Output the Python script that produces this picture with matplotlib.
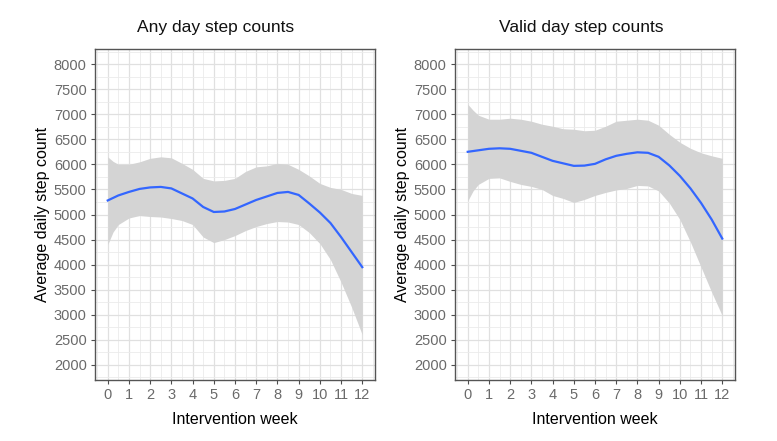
import matplotlib
matplotlib.use("Agg")
import matplotlib.pyplot as plt
import numpy as np

plt.rcParams['font.family'] = ['Liberation Sans', 'DejaVu Sans']

weeks = [0, 0.25, 0.5, 1, 1.5, 2, 2.5, 3, 3.5, 4, 4.5, 5, 5.5, 6, 6.5, 7, 7.5, 8, 8.5, 9, 9.5, 10, 10.5, 11, 11.5, 12]

any_mean = [5280, 5330, 5380, 5450, 5510, 5540, 5550, 5520, 5420, 5320, 5150, 5050, 5060, 5110, 5200, 5290,
            5360, 5430, 5450, 5390, 5220, 5040, 4830, 4550, 4250, 3950]
any_upper = [6150, 6060, 6000, 6000, 6050, 6120, 6150, 6130, 6020, 5900, 5720, 5670, 5680, 5720, 5860, 5950,
             5970, 6020, 6000, 5900, 5770, 5620, 5540, 5500, 5420, 5380]
any_lower = [4400, 4650, 4800, 4930, 4980, 4960, 4950, 4920, 4880, 4800, 4550, 4440, 4500, 4580, 4680, 4760,
             4820, 4860, 4850, 4800, 4640, 4420, 4100, 3650, 3150, 2600]

valid_mean = [6250, 6265, 6280, 6310, 6320, 6310, 6270, 6230, 6150, 6070, 6020, 5970, 5975, 6010, 6100, 6170,
              6210, 6240, 6230, 6150, 5980, 5770, 5520, 5230, 4900, 4520]
valid_upper = [7200, 7080, 6980, 6900, 6900, 6920, 6900, 6860, 6800, 6760, 6710, 6700, 6670, 6680, 6760, 6860,
               6880, 6900, 6880, 6780, 6600, 6440, 6320, 6230, 6170, 6120]
valid_lower = [5270, 5470, 5600, 5720, 5730, 5660, 5600, 5560, 5500, 5380, 5320, 5240, 5300, 5380, 5440, 5490,
               5520, 5580, 5570, 5470, 5230, 4900, 4450, 3950, 3450, 2980]

titles = ["Any day step counts", "Valid day step counts"]
x_ticks = list(range(0, 13))
y_ticks = list(range(2000, 8001, 500))

fig = plt.figure(figsize=(7.77, 4.41), dpi=100)
W, H = 777, 441
panels = [
    (95, titles[0], any_mean, any_upper, any_lower, 0.43),
    (455, titles[1], valid_mean, valid_upper, valid_lower, 0.45),
]
for left, title, m, up, lo, tx in panels:
    ax = fig.add_axes([left / W, 1 - 380 / H, 280 / W, 331 / H])
    ax.fill_between(weeks, lo, up, color="#d4d4d4", linewidth=0, zorder=2)
    ax.plot(weeks, m, color="#3366FF", linewidth=1.6, zorder=3)
    ax.set_xlim(-0.6, 12.6)
    ax.set_ylim(1700, 8300)
    ax.set_xticks(x_ticks)
    ax.set_yticks(y_ticks)
    ax.set_xticks(np.arange(-0.5, 12.6, 0.5), minor=True)
    ax.set_yticks(np.arange(1750, 8300, 250), minor=True)
    ax.grid(which="major", color="#e0e0e0", linewidth=0.9, zorder=0)
    ax.grid(which="minor", color="#ebebeb", linewidth=0.6, zorder=0)
    ax.set_axisbelow(True)
    ax.tick_params(which="minor", length=0)
    ax.tick_params(which="major", length=3, color="#4d4d4d", width=0.8,
                   labelcolor="#6a6a6a", labelsize=10.5, pad=3)
    for s in ax.spines.values():
        s.set_color("#555555")
        s.set_linewidth(1.0)
    ax.set_xlabel("Intervention week", fontsize=11.5, color="black", labelpad=7)
    ax.set_ylabel("Average daily step count", fontsize=11.5, color="black", labelpad=3)
    ax.set_title(title, fontsize=12.5, color="#111111", pad=12, x=tx)

fig.savefig("out.png", dpi=100)
